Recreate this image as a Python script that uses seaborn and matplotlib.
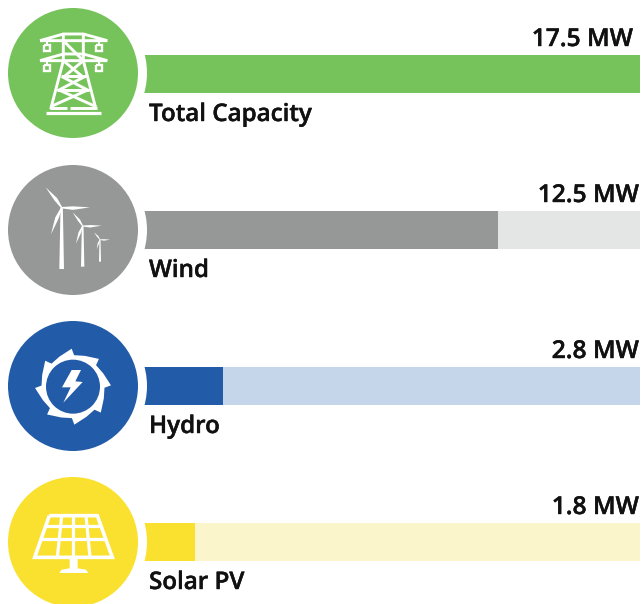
import numpy as np
import pandas as pd
import seaborn as sns
import matplotlib
matplotlib.use("Agg")
import matplotlib.pyplot as plt
import matplotlib.patheffects as pe
from matplotlib.patches import Circle, Polygon

names = ["Total Capacity", "Wind", "Hydro", "Solar PV"]
capacity = [17.5, 12.5, 2.8, 1.8]
total = [17.5, 17.5, 17.5, 17.5]
value_labels = ["17.5 MW", "12.5 MW", "2.8 MW", "1.8 MW"]
dark_colors = ["#76C35B", "#969897", "#225BA8", "#FAE12F"]
light_colors = ["#76C35B", "#E4E6E5", "#C6D6EA", "#FBF5CB"]

W, H = 641, 604
ROW = 156
TOP = 74
sns.set_theme(style="white")
plt.rcParams["font.family"] = ["Open Sans", "DejaVu Sans"]

df = pd.DataFrame({"name": names, "capacity": capacity, "total": total})

fig = plt.figure(figsize=(W / 100, H / 100), dpi=100)
ax = fig.add_axes([144 / W, 0, 496 / W, 1])
sns.barplot(data=df, x="total", y="name", hue="name", palette=light_colors,
            width=38 / ROW, legend=False, saturation=1, linewidth=0, ax=ax)
sns.barplot(data=df, x="capacity", y="name", hue="name", palette=dark_colors,
            width=38 / ROW, legend=False, saturation=1, linewidth=0, ax=ax)
ax.set_xlim(0, 17.5)
ax.set_ylim((H - TOP) / ROW, -TOP / ROW)
ax.axis("off")

heavier = [pe.withStroke(linewidth=0.3, foreground="#111111")]
for i, name in enumerate(names):
    ax.annotate(name, (0, i), xytext=(5, -47), textcoords="offset pixels",
                fontsize=17.4, fontweight="semibold", color="#111111",
                ha="left", va="baseline", annotation_clip=False, path_effects=heavier)
    dx = -7 if i == 0 else -1
    ax.annotate(value_labels[i], (17.5, i), xytext=(dx, 28), textcoords="offset pixels",
                fontsize=17.7, fontweight="semibold", color="#111111",
                ha="right", va="baseline", annotation_clip=False, path_effects=heavier)

# icons are drawn in image pixels, on top of the bars
ov = fig.add_axes([0, 0, 1, 1])
ov.set_xlim(0, W)
ov.set_ylim(H, 0)
ov.axis("off")
ov.patch.set_alpha(0)


def line(pts, oy, lw=2.1):
    xs = [p[0] / 3 for p in pts]
    ys = [p[1] / 3 + oy for p in pts]
    ov.plot(xs, ys, color="white", lw=lw, solid_capstyle="butt", solid_joinstyle="miter", zorder=5)


def poly(pts, oy, color="white", z=5):
    ov.add_patch(Polygon([(p[0] / 3, p[1] / 3 + oy) for p in pts], closed=True,
                         fc=color, ec="none", zorder=z))


centers = [TOP - 1, TOP + ROW, TOP + 2 * ROW, TOP + 3 * ROW]
for cy, col in zip(centers, dark_colors):
    ov.add_patch(Circle((73, cy), 74, fc="white", ec="none", zorder=2))
    ov.add_patch(Circle((73, cy), 65, fc=col, ec="none", zorder=3))

# pylon
for y in (0, 60):
    line([(120, 122 + y), (190, 102 + y), (250, 102 + y), (322, 122 + y), (120, 122 + y)], 0)
    for x in (140, 298):
        line([(x, 122 + y), (x, 136 + y)], 0, 1.5)
        line([(x - 9, 136 + y), (x + 9, 136 + y), (x + 9, 152 + y), (x - 9, 152 + y), (x - 9, 136 + y)], 0, 1.7)
line([(190, 102), (190, 182), (152, 328)], 0)
line([(250, 102), (250, 182), (288, 328)], 0)
line([(190, 122), (250, 182)], 0)
line([(190, 182), (250, 232), (177, 270), (288, 320)], 0)
line([(250, 182), (190, 232), (263, 270), (152, 320)], 0)
line([(182, 228), (258, 228)], 0)
line([(172, 270), (268, 270)], 0)
line([(138, 339), (302, 339)], 0, 2.3)
line([(150, 325), (200, 325)], 0)
line([(210, 325), (290, 325)], 0)

# wind turbines
OY = 155
turbines = [((185, 158), 342, 7, [(137, 97), (270, 157), (153, 238)]),
            ((248, 213), 335, 5, [(218, 172), (305, 212), (228, 266)]),
            ((300, 254), 320, 3, [(282, 232), (330, 254), (290, 282)])]
for (hx, hy), bottom, w, tips in turbines:
    poly([(hx - w * 0.5, hy), (hx + w * 0.5, hy), (hx + w, bottom), (hx - w, bottom)], OY)
    for tx, ty in tips:
        dx, dy = tx - hx, ty - hy
        nx, ny = -dy, dx
        nn = np.hypot(nx, ny)
        nx, ny = nx / nn * w, ny / nn * w
        poly([(hx + nx * 0.3, hy + ny * 0.3), (hx + dx * 0.4 + nx, hy + dy * 0.4 + ny), (tx, ty),
              (hx + dx * 0.4 - nx * 0.5, hy + dy * 0.4 - ny * 0.5), (hx - nx * 0.3, hy - ny * 0.3)], OY)

# gear with lightning
OY = 310
cx, cy = 73, 310 + 230 / 3
gear = []
for k in range(8):
    a = -92 + k * 45
    for r, off in [(31.5, -38), (33, -22), (38, 0), (31.5, 4)]:
        t = np.radians(a + off)
        gear.append((cx + r * np.cos(t), cy + r * np.sin(t)))
ov.add_patch(Polygon(gear, closed=True, fc="white", ec="none", zorder=5))
ov.add_patch(Circle((cx, cy), 27, fc=dark_colors[2], ec="none", zorder=6))
poly([(215, 180), (243, 180), (226, 214), (248, 216), (190, 278), (212, 232), (186, 232)], OY, z=7)

# solar panel
OY = 465
line([(148, 152), (292, 152), (337, 277), (104, 277), (148, 152)], OY, 2.6)
line([(136, 182), (304, 182)], OY, 2.3)
line([(122, 221), (318, 221)], OY, 2.3)
line([(185, 152), (172, 277)], OY, 2.3)
line([(220, 152), (220, 277)], OY, 2.3)
line([(258, 152), (270, 277)], OY, 2.3)
poly([(209, 277), (233, 277), (233, 310), (258, 314), (265, 324), (178, 324), (185, 314), (209, 310)], OY)

fig.savefig("out.png", dpi=100)
